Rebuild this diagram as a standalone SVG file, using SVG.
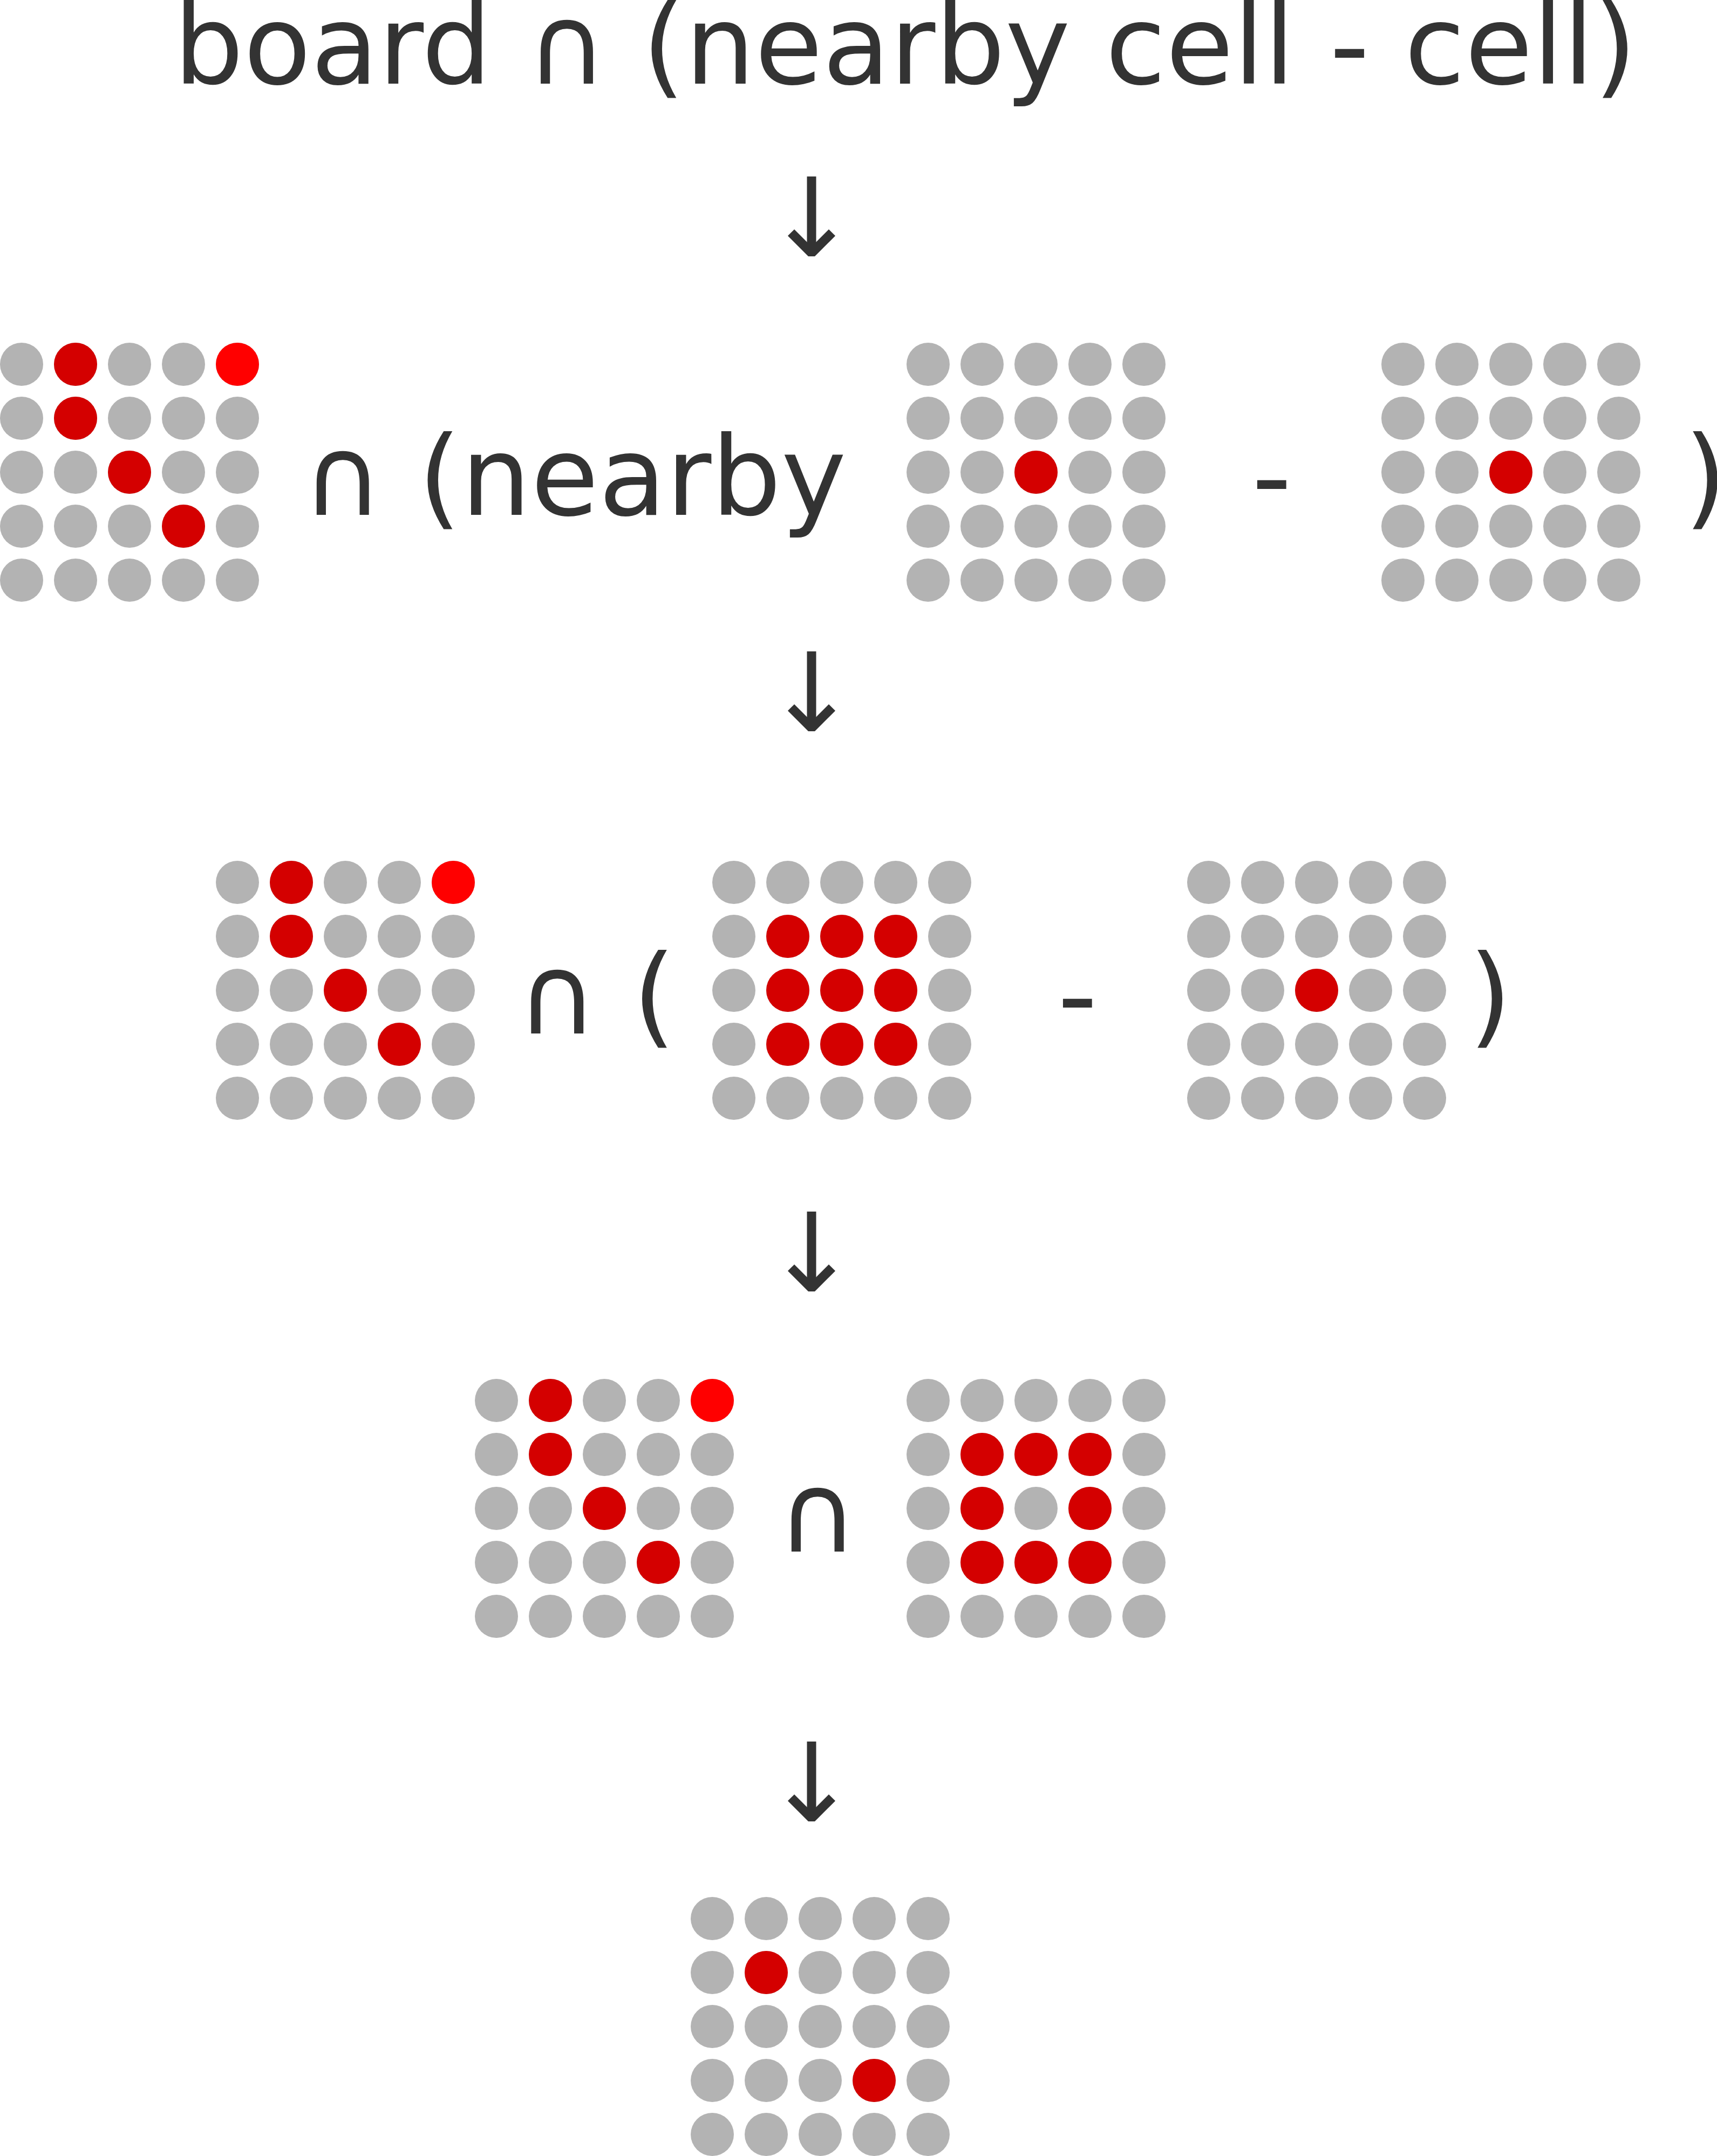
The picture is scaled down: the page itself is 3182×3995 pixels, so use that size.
<svg xmlns="http://www.w3.org/2000/svg" xmlns:xlink="http://www.w3.org/1999/xlink" width="3182" height="3995" viewBox="0 0 3182 3995">
<style>
.t{font-family:"DejaVu Sans","Liberation Sans",sans-serif;font-size:204px;fill:#333333}
.g{fill:#b3b3b3}
.r{fill:#d40000}
.b{fill:#ff0000}
.arrow{fill:none;stroke:#333333;stroke-width:17}
</style>
<defs>
<g id="grid">
<circle class="g" cx="0" cy="0" r="40"/><circle class="g" cx="100" cy="0" r="40"/><circle class="g" cx="200" cy="0" r="40"/><circle class="g" cx="300" cy="0" r="40"/><circle class="g" cx="400" cy="0" r="40"/>
<circle class="g" cx="0" cy="100" r="40"/><circle class="g" cx="100" cy="100" r="40"/><circle class="g" cx="200" cy="100" r="40"/><circle class="g" cx="300" cy="100" r="40"/><circle class="g" cx="400" cy="100" r="40"/>
<circle class="g" cx="0" cy="200" r="40"/><circle class="g" cx="100" cy="200" r="40"/><circle class="g" cx="200" cy="200" r="40"/><circle class="g" cx="300" cy="200" r="40"/><circle class="g" cx="400" cy="200" r="40"/>
<circle class="g" cx="0" cy="300" r="40"/><circle class="g" cx="100" cy="300" r="40"/><circle class="g" cx="200" cy="300" r="40"/><circle class="g" cx="300" cy="300" r="40"/><circle class="g" cx="400" cy="300" r="40"/>
<circle class="g" cx="0" cy="400" r="40"/><circle class="g" cx="100" cy="400" r="40"/><circle class="g" cx="200" cy="400" r="40"/><circle class="g" cx="300" cy="400" r="40"/><circle class="g" cx="400" cy="400" r="40"/>
</g>
<g id="board">
<use xlink:href="#grid" href="#grid"/>
<circle class="r" cx="100" cy="0" r="40"/><circle class="b" cx="400" cy="0" r="40"/>
<circle class="r" cx="100" cy="100" r="40"/>
<circle class="r" cx="200" cy="200" r="40"/>
<circle class="r" cx="300" cy="300" r="40"/>
</g>
<g id="cell">
<use xlink:href="#grid" href="#grid"/>
<circle class="r" cx="200" cy="200" r="40"/>
</g>
<g id="block">
<use xlink:href="#grid" href="#grid"/>
<circle class="r" cx="100" cy="100" r="40"/><circle class="r" cx="200" cy="100" r="40"/><circle class="r" cx="300" cy="100" r="40"/>
<circle class="r" cx="100" cy="200" r="40"/><circle class="r" cx="200" cy="200" r="40"/><circle class="r" cx="300" cy="200" r="40"/>
<circle class="r" cx="100" cy="300" r="40"/><circle class="r" cx="200" cy="300" r="40"/><circle class="r" cx="300" cy="300" r="40"/>
</g>
<g id="ring">
<use xlink:href="#grid" href="#grid"/>
<circle class="r" cx="100" cy="100" r="40"/><circle class="r" cx="200" cy="100" r="40"/><circle class="r" cx="300" cy="100" r="40"/>
<circle class="r" cx="100" cy="200" r="40"/><circle class="r" cx="300" cy="200" r="40"/>
<circle class="r" cx="100" cy="300" r="40"/><circle class="r" cx="200" cy="300" r="40"/><circle class="r" cx="300" cy="300" r="40"/>
</g>
</defs>
<rect width="3182" height="3995" fill="#ffffff"/>

<g id="title">
<text class="t" x="322" y="155">board ∩ (nearby cell - cell)</text>
</g>

<g id="step1">
<g id="step1-board" transform="translate(40,675)"><use xlink:href="#board" href="#board"/></g>
<text class="t" x="1568.5" y="954" text-anchor="end">∩ (nearby</text>
<g id="step1-nearby" transform="translate(1720,675)"><use xlink:href="#cell" href="#cell"/></g>
<text class="t" x="2320" y="954">-</text>
<g id="step1-cell" transform="translate(2600,675)"><use xlink:href="#cell" href="#cell"/></g>
<text class="t" x="3121" y="954">)</text>
</g>

<g id="step2">
<g id="step2-board" transform="translate(440,1635)"><use xlink:href="#board" href="#board"/></g>
<text class="t" x="1252" y="1915" text-anchor="end">∩ (</text>
<g id="step2-nearby" transform="translate(1360,1635)"><use xlink:href="#block" href="#block"/></g>
<text class="t" x="1960" y="1915">-</text>
<g id="step2-cell" transform="translate(2240,1635)"><use xlink:href="#cell" href="#cell"/></g>
<text class="t" x="2722" y="1915">)</text>
</g>

<g id="step3">
<g id="step3-board" transform="translate(920,2595)"><use xlink:href="#board" href="#board"/></g>
<text class="t" x="1515.5" y="2875" text-anchor="middle">∩</text>
<g id="step3-ring" transform="translate(1720,2595)"><use xlink:href="#ring" href="#ring"/></g>
</g>

<g id="result" transform="translate(1320,3555)">
<g id="result-grid">
<use xlink:href="#grid" href="#grid"/>
<circle class="r" cx="100" cy="100" r="40"/>
<circle class="r" cx="300" cy="300" r="40"/>
</g>
</g>

<g id="connectors">
<g id="arrow1"><path class="arrow" d="M1504 327 V465"/><path class="arrow" stroke-linejoin="bevel" d="M1466 431 L1504 469 L1542 431"/></g>
<g id="arrow2"><path class="arrow" d="M1504 1207 V1345"/><path class="arrow" stroke-linejoin="bevel" d="M1466 1311 L1504 1349 L1542 1311"/></g>
<g id="arrow3"><path class="arrow" d="M1504 2245 V2383"/><path class="arrow" stroke-linejoin="bevel" d="M1466 2349 L1504 2387 L1542 2349"/></g>
<g id="arrow4"><path class="arrow" d="M1504 3227 V3365"/><path class="arrow" stroke-linejoin="bevel" d="M1466 3331 L1504 3369 L1542 3331"/></g>
</g>
</svg>
